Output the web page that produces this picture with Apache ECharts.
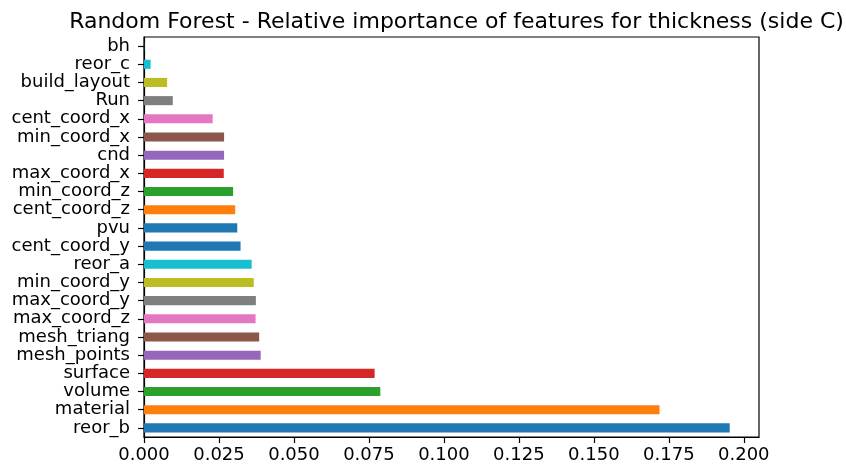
<!DOCTYPE html>
<html>
<head>
<meta charset="utf-8">
<script src="https://cdn.jsdelivr.net/npm/echarts@6/dist/echarts.min.js"></script>
<style>
  html, body { margin: 0; padding: 0; background: #fff; }
  #chart { width: 846px; height: 475px; }
</style>
</head>
<body>
<div id="chart"></div>
<script>
// Feature names, listed bottom-to-top as they appear on the y axis
const features = [
  'reor_b', 'material', 'volume', 'surface', 'mesh_points', 'mesh_triang',
  'max_coord_z', 'max_coord_y', 'min_coord_y', 'reor_a', 'cent_coord_y', 'pvu',
  'cent_coord_z', 'min_coord_z', 'max_coord_x', 'cnd', 'min_coord_x',
  'cent_coord_x', 'Run', 'build_layout', 'reor_c', 'bh'
];

// Relative importance of each feature
const importance = [
  0.1953, 0.1719, 0.0788, 0.0769, 0.0389, 0.0384,
  0.0372, 0.0373, 0.0366, 0.0359, 0.0322, 0.0311,
  0.0304, 0.0297, 0.0266, 0.0267, 0.0267,
  0.0229, 0.0096, 0.0077, 0.0022, 0.0001
];

// Bar colours, one per feature
const barColors = [
  '#1f77b4', '#ff7f0e', '#2ca02c', '#d62728', '#9467bd', '#8c564b',
  '#e377c2', '#7f7f7f', '#bcbd22', '#17becf', '#1f77b4', '#1f77b4',
  '#ff7f0e', '#2ca02c', '#d62728', '#9467bd', '#8c564b',
  '#e377c2', '#7f7f7f', '#bcbd22', '#17becf', '#1f77b4'
];

// X axis tick positions
const xTicks = [0, 0.025, 0.05, 0.075, 0.1, 0.125, 0.15, 0.175, 0.2];

const font = 'DejaVu Sans';
const maxImportance = Math.max.apply(null, importance);

const chart = echarts.init(document.getElementById('chart'), null, { renderer: 'canvas' });

chart.setOption({
  animation: false,
  backgroundColor: '#ffffff',
  title: {
    text: 'Random Forest - Relative importance of features for thickness (side C)',
    left: 451.5,
    textAlign: 'center',
    top: 6,
    textStyle: { fontFamily: font, fontSize: 22, fontWeight: 'normal', color: '#000' }
  },
  grid: {
    left: 144, right: 87, top: 37, bottom: 38,
    show: true, borderColor: '#000', borderWidth: 1.2, backgroundColor: 'transparent'
  },
  xAxis: {
    type: 'value',
    min: 0,
    max: maxImportance * 1.05,
    splitLine: { show: false },
    axisLine: { show: true, onZero: false, lineStyle: { color: '#000', width: 1.2 } },
    axisTick: {
      show: true, length: 6, inside: false,
      customValues: xTicks,
      lineStyle: { color: '#000', width: 1.2 }
    },
    axisLabel: {
      customValues: xTicks,
      margin: 9,
      fontFamily: font, fontSize: 18, color: '#000',
      formatter: v => v.toFixed(3)
    }
  },
  yAxis: {
    type: 'category',
    data: features,
    axisLine: { show: true, lineStyle: { color: '#000', width: 1.2 } },
    axisTick: { show: true, alignWithLabel: true, interval: 0, length: 6, lineStyle: { color: '#000', width: 1.2 } },
    axisLabel: { interval: 0, margin: 14, fontFamily: font, fontSize: 18, color: '#000' },
    splitLine: { show: false }
  },
  series: [{
    type: 'bar',
    barWidth: '50%',
    data: importance.map((v, i) => ({ value: v, itemStyle: { color: barColors[i] } }))
  }]
});
</script>
</body>
</html>
